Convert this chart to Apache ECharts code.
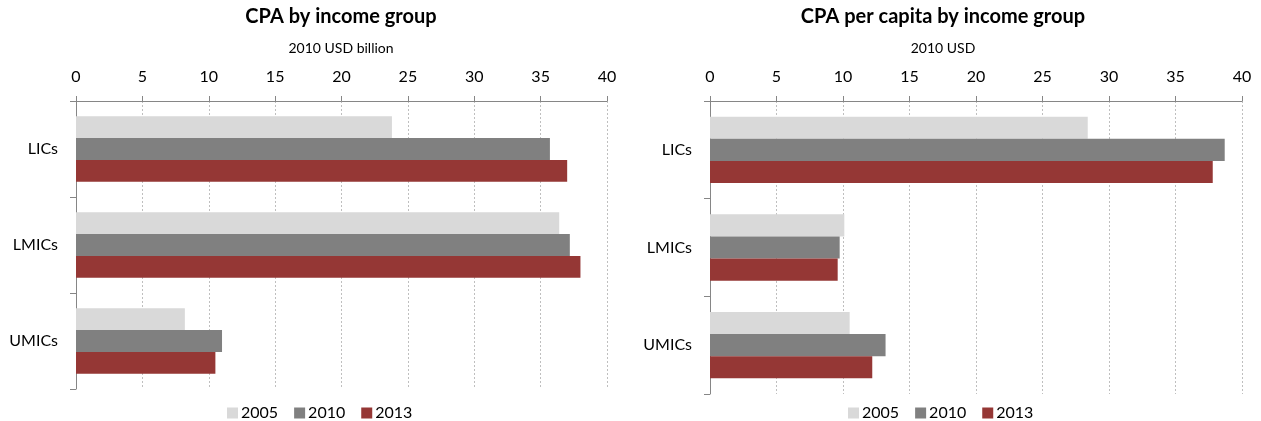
<!DOCTYPE html>
<html>
<head>
<meta charset="utf-8">
<script src="https://cdn.jsdelivr.net/npm/echarts@6/dist/echarts.min.js"></script>
<style>
html,body{margin:0;padding:0;background:#fff;}
#c{width:1261px;height:421px;}
</style>
</head>
<body>
<div id="c"></div>
<script>
const categories = ['LICs', 'LMICs', 'UMICs'];
const years = ['2005', '2010', '2013'];
const xTicks = [0, 5, 10, 15, 20, 25, 30, 35, 40];

// CPA by income group (2010 USD billion)
const total2005 = [23.8, 36.4, 8.2];
const total2010 = [35.7, 37.2, 11.0];
const total2013 = [37.0, 38.0, 10.5];

// CPA per capita by income group (2010 USD)
const perCap2005 = [28.4, 10.1, 10.5];
const perCap2010 = [38.7, 9.75, 13.2];
const perCap2013 = [37.8, 9.6, 12.2];

const colors = ['#D9D9D9', '#808080', '#953735'];
const FONT = 'Lato, "Open Sans", sans-serif';

const chart = echarts.init(document.getElementById('c'));

function xAxisCfg(gi) {
  return {
    type: 'value', gridIndex: gi, position: 'top',
    min: xTicks[0], max: xTicks[xTicks.length - 1], interval: xTicks[1] - xTicks[0],
    axisLine: { show: true, lineStyle: { color: '#868686', width: 1 } },
    axisTick: { show: true, length: 5, lineStyle: { color: '#868686' } },
    axisLabel: { color: '#000', fontSize: 16, fontFamily: FONT, margin: 16 },
    splitLine: { show: true, lineStyle: { color: '#BFBFBF', type: [2, 2], width: 1 } }
  };
}
function yAxisCfg(gi) {
  return {
    type: 'category', gridIndex: gi, data: categories, inverse: true,
    axisLine: { show: true, lineStyle: { color: '#868686', width: 1 } },
    axisTick: { show: true, length: 6, lineStyle: { color: '#868686' } },
    axisLabel: { color: '#000', fontSize: 16, fontFamily: FONT, margin: 18 },
    splitLine: { show: false }
  };
}
function barSeries(name, data, gi, ci) {
  return {
    name: name, type: 'bar', xAxisIndex: gi, yAxisIndex: gi, data: data,
    barGap: '0%', barCategoryGap: '32%',
    itemStyle: { color: colors[ci] }, silent: true
  };
}
function legendCfg(left) {
  return {
    data: years, left: left, top: 405, padding: 0, icon: 'rect',
    itemWidth: 11, itemHeight: 11, itemGap: 16,
    textStyle: { fontSize: 16, color: '#000', fontFamily: FONT, padding: [0, 0, 0, -2] },
    selectedMode: false
  };
}

chart.setOption({
  animation: false,
  textStyle: { fontFamily: FONT },
  title: [
    { text: 'CPA by income group', left: 341, top: 7, padding: 0, textAlign: 'center',
      textStyle: { fontSize: 20, fontWeight: 'bold', color: '#000', fontFamily: FONT } },
    { text: '2010 USD billion', left: 341, top: 41, padding: 0, textAlign: 'center',
      textStyle: { fontSize: 14, fontWeight: 'normal', color: '#000', fontFamily: FONT } },
    { text: 'CPA per capita by income group', left: 943, top: 7, padding: 0, textAlign: 'center',
      textStyle: { fontSize: 20, fontWeight: 'bold', color: '#000', fontFamily: FONT } },
    { text: '2010 USD', left: 943, top: 41, padding: 0, textAlign: 'center',
      textStyle: { fontSize: 14, fontWeight: 'normal', color: '#000', fontFamily: FONT } }
  ],
  legend: [legendCfg(227), legendCfg(848)],
  grid: [
    { left: 76, top: 101, width: 531, height: 288, containLabel: false },
    { left: 710, top: 101, width: 532, height: 293, containLabel: false }
  ],
  xAxis: [xAxisCfg(0), xAxisCfg(1)],
  yAxis: [yAxisCfg(0), yAxisCfg(1)],
  series: [
    barSeries(years[0], total2005, 0, 0),
    barSeries(years[1], total2010, 0, 1),
    barSeries(years[2], total2013, 0, 2),
    barSeries(years[0], perCap2005, 1, 0),
    barSeries(years[1], perCap2010, 1, 1),
    barSeries(years[2], perCap2013, 1, 2)
  ]
});
</script>
</body>
</html>
